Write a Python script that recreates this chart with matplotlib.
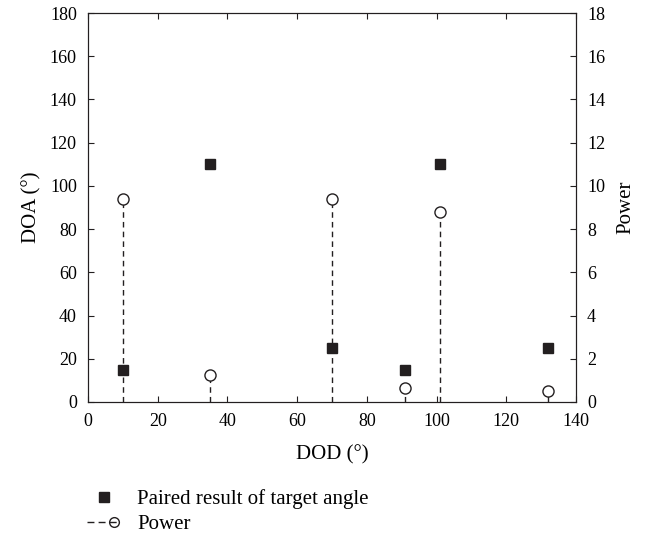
import matplotlib
matplotlib.use("Agg")
import matplotlib.pyplot as plt
from matplotlib.lines import Line2D
from matplotlib.legend_handler import HandlerBase

plt.rcParams['font.family'] = ['Liberation Serif', 'DejaVu Serif']
plt.rcParams['font.size'] = 15

# paired result of target angle (DOD, DOA)
dod = [10, 35, 70, 91, 101, 132]
doa = [15, 110, 25, 15, 110, 25]
# power spectrum peaks
power_x = [10, 35, 70, 91, 101, 132]
power = [9.38, 1.24, 9.38, 0.63, 8.78, 0.52]

ink = '#231f20'


class DashThenCircle(HandlerBase):
    # legend key drawn as "- -o": dashes first, circle at the right end
    def create_artists(self, legend, orig_handle, xdescent, ydescent,
                       width, height, fontsize, trans):
        y = height / 2 - ydescent
        x0, x1 = -xdescent, -xdescent + width
        line = Line2D([x0, x1 - 3], [y, y], color=ink, lw=1, ls=(0, (5, 3)))
        mark = Line2D([x1 - 5], [y], ls='none', marker='o', color=ink,
                      mfc='none', markersize=7, mew=1)
        line.set_transform(trans)
        mark.set_transform(trans)
        return [line, mark]


fig = plt.figure(figsize=(6.49, 5.35), dpi=100)
ax = fig.add_axes([0.1356, 0.2486, 0.7519, 0.7271])
ax2 = ax.twinx()

ax.plot(dod, doa, 's', color=ink, markersize=7.5, zorder=5)
ax2.vlines(power_x, 0, power, colors=ink, linestyles=(0, (4, 3)), linewidth=1)
ax2.plot(power_x, power, 'o', color=ink, mfc='white', markersize=8, mew=1, zorder=4)

ax.set_xlim(0, 140)
ax.set_ylim(0, 180)
ax2.set_ylim(0, 18)
ax.set_xticks(range(0, 141, 20))
ax.set_yticks(range(0, 181, 20))
ax2.set_yticks(range(0, 19, 2))
ax.set_xlabel('DOD (°)', labelpad=11)
ax.set_ylabel('DOA (°)', labelpad=6)
ax2.set_ylabel('Power', labelpad=8)
ax.tick_params(direction='in', top=True, length=4, pad=8, labelsize=13, color=ink)
ax2.tick_params(direction='in', length=4, pad=8, labelsize=13, color=ink)
for a in (ax, ax2):
    for s in a.spines.values():
        s.set_color(ink)

h1 = Line2D([0], [0], ls='none', marker='s', color=ink, markersize=7)
h2 = Line2D([0], [0], ls='--', marker='o', color=ink)
fig.legend([h1, h2], ['Paired result of target angle', 'Power'],
           loc='lower left', bbox_to_anchor=(0.134, 0.002), frameon=False,
           borderpad=0, borderaxespad=0,
           numpoints=1, handlelength=1.65, labelspacing=0.25, handletextpad=0.75,
           handler_map={h2: DashThenCircle()})

fig.savefig('out.png', dpi=100)
